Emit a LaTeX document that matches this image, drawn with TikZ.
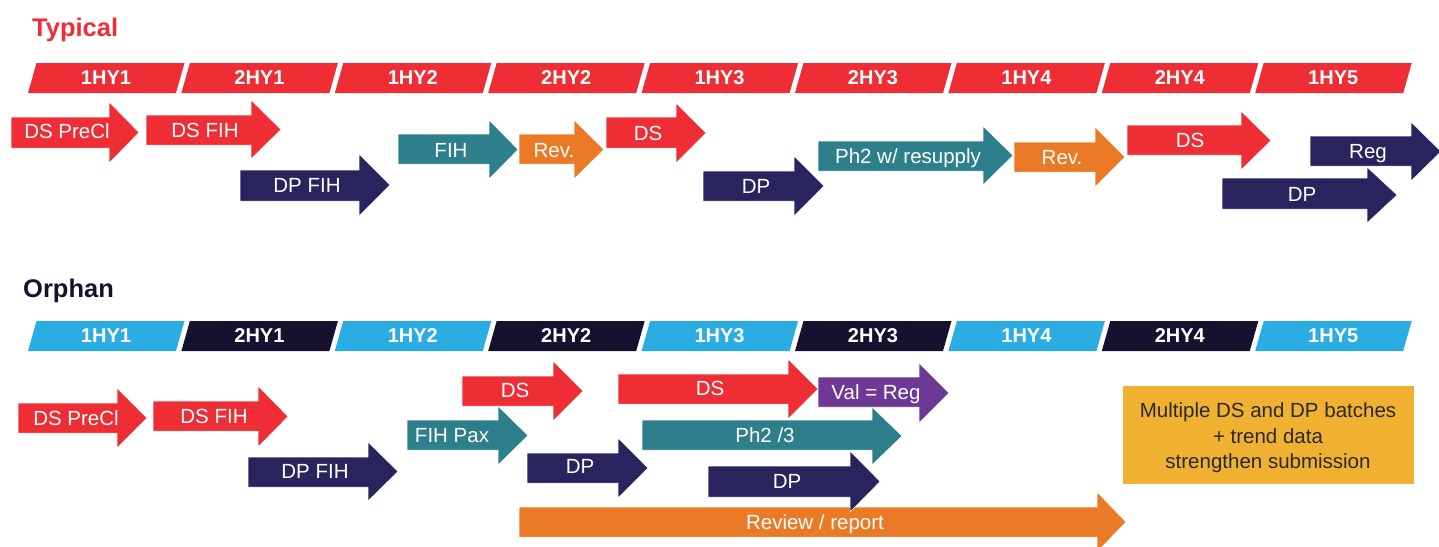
\documentclass[tikz,border=0pt]{standalone}
\usepackage{fontspec}
\setmainfont{Liberation Sans}
\definecolor{tred}{HTML}{EE2D34}
\definecolor{tnavy}{HTML}{29235E}
\definecolor{tteal}{HTML}{2C7F8B}
\definecolor{torange}{HTML}{EB7A26}
\definecolor{tblue}{HTML}{2BADE3}
\definecolor{tdark}{HTML}{15112F}
\definecolor{tpurple}{HTML}{6E3996}
\definecolor{tyellow}{HTML}{F0B131}
\definecolor{ttext}{HTML}{2A2928}
% #1 colour, #2 x left, #3 body top, #4 body bottom, #5 head base x, #6 head top, #7 head bottom, #8 tip x
\newcommand\tlarrow[8]{\fill[#1, draw=white, line width=0.5pt] (#2,#3) -- (#5,#3) -- (#5,#6) -- (#8,{(#6+#7)/2}) -- (#5,#7) -- (#5,#4) -- (#2,#4) -- cycle;}
\tikzset{
  alab/.style={text=white, inner sep=0pt, text height=14.7pt, text depth=0pt, font=\fontsize{20.5}{24}\selectfont},
  seglab/.style={text=white, inner sep=0pt, text height=14.3pt, text depth=0pt, font=\fontsize{20}{24}\selectfont\bfseries},
  title/.style={inner sep=0pt, anchor=base west, font=\fontsize{25.5}{30}\selectfont\bfseries},
  notetxt/.style={text=ttext, inner sep=0pt, anchor=base, font=\fontsize{20.5}{24}\selectfont},
  notebox/.style={fill=tyellow, inner sep=0pt, minimum width=291pt, minimum height=98pt}
}
\begin{document}
\begin{tikzpicture}[x=1pt,y=-1pt]
\useasboundingbox (0,0) rectangle (1439,546);
% ---------- Typical ----------
\node[title, text=tred] (typ) at (32,36.7) {Typical};
\foreach \lab [count=\i from 0] in {1HY1,2HY1,1HY2,2HY2,1HY3,2HY3,1HY4,2HY4,1HY5} {
  \pgfmathsetmacro\xb{28+153.4*\i}
  \fill[tred] (\xb,93) -- (\xb+148,93) -- (\xb+156.5,63) -- (\xb+8.5,63) -- cycle;
  \node[seglab] (t\i) at (\xb+78,77.8) {\lab};
}
\tlarrow{tred}{11}{117}{148}{109}{102}{163}{139}
\node[alab] (tdsprecl) at (67,131) {DS PreCl};
\tlarrow{tred}{146}{115}{145}{251}{100}{159}{281}
\node[alab] (tdsfih) at (205,130) {DS FIH};
\tlarrow{tnavy}{240}{170}{201}{359}{154}{216}{390}
\node[alab] (tdpfih) at (307,185) {DP FIH};
\tlarrow{tteal}{398}{134}{164}{489}{120}{179}{518}
\node[alab] (tfih) at (451,150) {FIH};
\tlarrow{torange}{519}{134}{164}{574}{120}{179}{604}
\node[alab] (trev1) at (554,150) {Rev.};
\tlarrow{tred}{606}{117}{148}{676}{103}{163}{706}
\node[alab] (tds1) at (648,133) {DS};
\tlarrow{tnavy}{703}{171}{201}{794}{156}{216}{824}
\node[alab] (tdp1) at (756,186) {DP};
\tlarrow{tteal}{818}{141}{171}{983}{126}{185}{1013}
\node[alab] (tph2) at (908,156) {Ph2 w/ resupply};
\tlarrow{torange}{1014}{142}{172}{1095}{127}{187}{1125}
\node[alab] (trev2) at (1062,157) {Rev.};
\tlarrow{tred}{1127}{125}{155}{1241}{111}{170}{1271}
\node[alab] (tds2) at (1190,140) {DS};
\tlarrow{tnavy}{1310}{136}{166}{1411}{122}{181}{1441}
\node[alab] (treg) at (1368,151) {Reg};
\tlarrow{tnavy}{1222}{178}{209}{1367}{167}{223}{1397}
\node[alab] (tdp2) at (1302,194) {DP};
% ---------- Orphan ----------
\node[title, text=tdark] (orph) at (23,297.7) {Orphan};
\foreach \lab/\col [count=\i from 0] in {1HY1/tblue,2HY1/tdark,1HY2/tblue,2HY2/tdark,1HY3/tblue,2HY3/tdark,1HY4/tblue,2HY4/tdark,1HY5/tblue} {
  \pgfmathsetmacro\xb{28+153.4*\i}
  \fill[\col] (\xb,351) -- (\xb+148,351) -- (\xb+156.5,321) -- (\xb+8.5,321) -- cycle;
  \node[seglab] (o\i) at (\xb+78,335.8) {\lab};
}
\tlarrow{tred}{18}{403}{433}{117}{388}{448}{147}
\node[alab] (odsprecl) at (76,418) {DS PreCl};
\tlarrow{tred}{153}{401}{431}{258}{386}{447}{288}
\node[alab] (odsfih) at (214,416) {DS FIH};
\tlarrow{tnavy}{248}{457}{487}{368}{442}{501}{398}
\node[alab] (odpfih) at (315,471) {DP FIH};
\tlarrow{torange}{519}{507}{537}{1097}{492}{552}{1126}
\node[alab] (orev) at (815,522) {Review / report};
\tlarrow{tred}{462}{376}{406}{553}{361}{421}{583}
\node[alab] (ods1) at (515,390) {DS};
\tlarrow{tteal}{407}{420}{450}{498}{406}{465}{528}
\node[alab] (ofihpax) at (452,435) {FIH Pax};
\tlarrow{tnavy}{527}{453}{483}{618}{438}{498}{648}
\node[alab] (odp1) at (580,466) {DP};
\tlarrow{tred}{618}{374}{404}{788}{359}{419}{818}
\node[alab] (ods2) at (710,388) {DS};
\tlarrow{tpurple}{818}{377}{407}{919}{363}{423}{949}
\node[alab] (oval) at (876,392) {Val = Reg};
\tlarrow{tteal}{642}{420}{450}{872}{407}{465}{902}
\node[alab] (oph2) at (765,435) {Ph2 /3};
\tlarrow{tnavy}{708}{466}{497}{850}{451}{512}{880}
\node[alab] (odp2) at (787,481) {DP};
% note box
\node[notebox] (note) at (1268,435) {};
\node[notetxt] (note1) at (1268,417.3) {Multiple DS and DP batches};
\node[notetxt] (note2) at (1268,443.3) {+ trend data};
\node[notetxt] (note3) at (1268,468.3) {strengthen submission};
\end{tikzpicture}
\end{document}
